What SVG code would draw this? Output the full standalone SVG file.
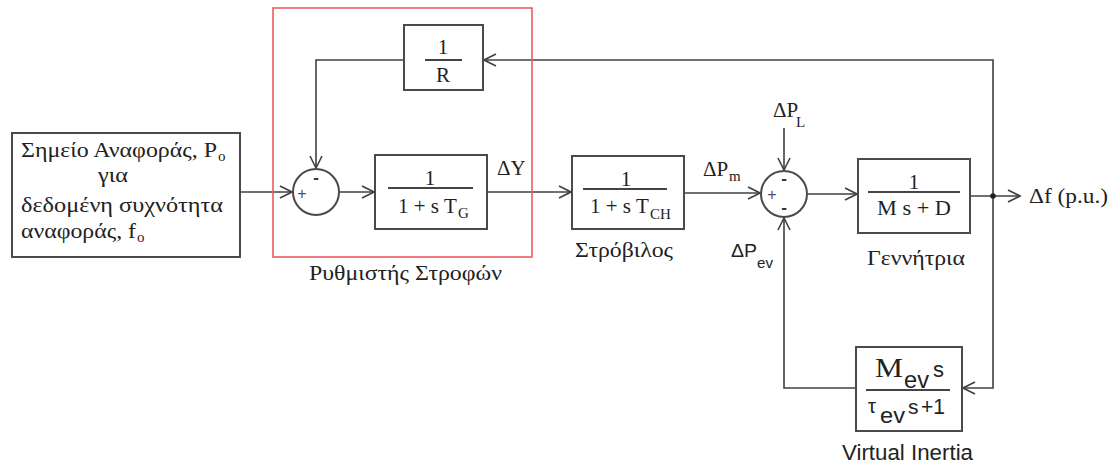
<svg xmlns="http://www.w3.org/2000/svg" width="1115" height="466" viewBox="0 0 1115 466">
<style>
.b{fill:#fff;stroke:#4a4a4a;stroke-width:2}
.l{fill:none;stroke:#404040;stroke-width:1.6}
.t{font-family:"Liberation Serif","Times New Roman",serif;font-size:21px;fill:#222}
.s{font-family:"Liberation Sans",Arial,sans-serif;font-size:22px;fill:#222}
.sub{font-size:15px}
.sg{font-family:"Liberation Sans",Arial,sans-serif;font-size:17px;font-weight:bold;fill:#333}
.pl{font-family:"Liberation Sans",Arial,sans-serif;font-size:16px;fill:#5a4a6a}
.fr{stroke:#444;stroke-width:1.8}
</style>
<defs>
<marker id="a" markerUnits="userSpaceOnUse" markerWidth="14" markerHeight="14" viewBox="0 0 14 14" refX="13" refY="7" orient="auto">
<path d="M1,1 L13,7 L1,13" fill="none" stroke="#404040" stroke-width="1.6"/>
</marker>
</defs>
<rect x="0" y="0" width="1115" height="466" fill="#fff"/>
<g id="connectors">
<path class="l" d="M240,192 H292" marker-end="url(#a)"/>
<path class="l" d="M404,60 H316 V168" marker-end="url(#a)"/>
<path class="l" d="M339,192 H374" marker-end="url(#a)"/>
<path class="l" d="M487,192 H571" marker-end="url(#a)"/>
<path class="l" d="M684,193 H760" marker-end="url(#a)"/>
<path class="l" d="M784,128 V170" marker-end="url(#a)"/>
<path class="l" d="M807,194 H857" marker-end="url(#a)"/>
<path class="l" d="M970,196 H1020" marker-end="url(#a)"/>
<path class="l" d="M993,196 V60 H484" marker-end="url(#a)"/>
<path class="l" d="M993,196 V388 H963" marker-end="url(#a)"/>
<path class="l" d="M856,388 H784 V218" marker-end="url(#a)"/>
<circle cx="993" cy="196" r="2.8" fill="#222"/>
</g>
<g id="reference">
<rect class="b" x="12" y="133" width="228" height="124"/>
<text class="t" x="21" y="157" textLength="196" lengthAdjust="spacingAndGlyphs">Σημείο Αναφοράς, P</text>
<text class="t sub" x="218" y="161">o</text>
<text class="t" x="98" y="182" textLength="30" lengthAdjust="spacingAndGlyphs">για</text>
<text class="t" x="21" y="212" textLength="202" lengthAdjust="spacingAndGlyphs">δεδομένη συχνότητα</text>
<text class="t" x="21" y="238" textLength="115" lengthAdjust="spacingAndGlyphs">αναφοράς, f</text>
<text class="t sub" x="137" y="242">o</text>
</g>
<g id="governor-frame">
<rect x="273" y="8" width="259" height="249" fill="none" stroke="#ee5a5e" stroke-width="1.6"/>
<text class="t" x="309" y="280" textLength="193" lengthAdjust="spacingAndGlyphs">Ρυθμιστής Στροφών</text>
</g>
<g id="gainR">
<rect class="b" x="404" y="25" width="79" height="65"/>
<text class="t" x="443" y="54" text-anchor="middle">1</text>
<line class="fr" x1="425" y1="60" x2="462" y2="60"/>
<text class="t" x="443" y="82" text-anchor="middle">R</text>
</g>
<g id="sum1">
<circle class="b" cx="316" cy="192" r="23" stroke-width="1.6"/>
<text class="pl" x="302" y="199" text-anchor="middle">+</text>
<text class="sg" x="316" y="183" text-anchor="middle">-</text>
</g>
<g id="governor">
<rect class="b" x="375" y="155" width="112" height="74"/>
<text class="t" x="430" y="185" text-anchor="middle">1</text>
<line class="fr" x1="388" y1="188" x2="473" y2="188"/>
<text class="t" x="398" y="213">1 + s T</text>
<text class="t sub" x="458" y="218">G</text>
<text class="t" x="497" y="175">ΔY</text>
</g>
<g id="turbine">
<rect class="b" x="572" y="156" width="112" height="73"/>
<text class="t" x="626" y="186" text-anchor="middle">1</text>
<line class="fr" x1="583" y1="189" x2="667" y2="189"/>
<text class="t" x="590" y="213">1 + s T</text>
<text class="t sub" x="650" y="219">CH</text>
<text class="t" x="575" y="257" textLength="98" lengthAdjust="spacingAndGlyphs">Στρόβιλος</text>
<text class="t" x="703" y="176">ΔP</text>
<text class="t sub" x="729" y="181">m</text>
</g>
<g id="sum2">
<circle class="b" cx="784" cy="194" r="23" stroke-width="1.6"/>
<text class="pl" x="772" y="200" text-anchor="middle">+</text>
<text class="sg" x="784" y="184" text-anchor="middle">-</text>
<text class="sg" x="784" y="213" text-anchor="middle">-</text>
<text class="t" x="773" y="117">ΔP</text>
<text class="t sub" x="796" y="127">L</text>
<text class="s" x="731" y="257" style="font-size:18px" textLength="26" lengthAdjust="spacingAndGlyphs">ΔP</text>
<text class="s" x="757" y="268" style="font-size:15px" textLength="16" lengthAdjust="spacingAndGlyphs">ev</text>
</g>
<g id="generator">
<rect class="b" x="858" y="159" width="112" height="74"/>
<text class="t" x="914" y="189" text-anchor="middle">1</text>
<line class="fr" x1="868" y1="192" x2="960" y2="192"/>
<text class="t" x="877" y="215" textLength="74" lengthAdjust="spacingAndGlyphs">M s + D</text>
<text class="t" x="867" y="265" textLength="98" lengthAdjust="spacingAndGlyphs">Γεννήτρια</text>
<text class="t" x="1029" y="203" textLength="79" lengthAdjust="spacingAndGlyphs">Δf (p.u.)</text>
</g>
<g id="virtual-inertia">
<rect class="b" x="856" y="347" width="106" height="84"/>
<text class="t" x="875" y="377" style="font-size:27px" textLength="28" lengthAdjust="spacingAndGlyphs">M</text>
<text class="s" x="904" y="388" style="font-size:24px" textLength="25" lengthAdjust="spacingAndGlyphs">ev</text>
<text class="s" x="933" y="377" style="font-size:22px">s</text>
<line class="fr" x1="866" y1="390" x2="950" y2="390"/>
<text class="s" x="868" y="413" style="font-size:20px">τ</text>
<text class="s" x="880" y="423" style="font-size:22px" textLength="25" lengthAdjust="spacingAndGlyphs">ev</text>
<text class="s" x="908" y="414" style="font-size:21px">s</text>
<text class="s" x="921" y="414" style="font-size:22px" textLength="24" lengthAdjust="spacingAndGlyphs">+1</text>
<text class="s" x="842" y="460" textLength="131" lengthAdjust="spacingAndGlyphs">Virtual Inertia</text>
</g>
</svg>
